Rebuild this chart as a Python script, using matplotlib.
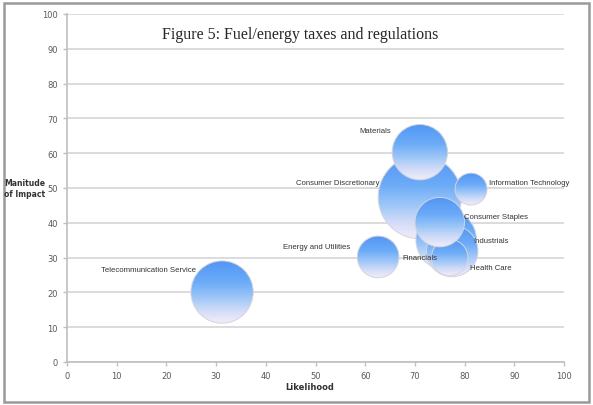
import matplotlib
matplotlib.use("Agg")
import matplotlib.pyplot as plt
import numpy as np
from matplotlib.patches import Circle, Rectangle
from matplotlib.transforms import Affine2D, ScaledTranslation

# Data
sectors = ["Consumer Discretionary", "Industrials", "Health Care", "Financials",
           "Energy and Utilities", "Telecommunication Service",
           "Information Technology", "Materials", "Consumer Staples"]
likelihood = [71, 76.3, 77.5, 77, 62.6, 31.2, 81.3, 71, 75]
impact = [47.4, 35.1, 31.9, 30, 30.2, 20.1, 49.7, 60.3, 40.2]
bubble_size = [6.8, 3.6, 2.6, 1.3, 1.7, 3.8, 1.0, 3.0, 2.4]

# label offsets in pixels from bubble centre, and alignment
label_off = [(-40, 15), (27, -1), (18, -17), (-47, 0), (-28, 10),
             (-26, 23), (18, 7), (-29, 22), (24, 6)]
label_ha = ["right", "left", "left", "left", "right",
            "right", "left", "right", "left"]

x_ticks = list(range(0, 101, 10))
y_ticks = list(range(0, 101, 10))

GRID = "#d9d9d9"
AXIS = "#bfbfbf"
TICK_TXT = "#595959"
TXT = "#333333"

# gradient of the bubbles, top to bottom
grad_pos = [0.0, 0.35, 0.6, 0.8, 1.0]
grad_stops = np.array([
    [0.32, 0.59, 0.96],
    [0.42, 0.67, 0.97],
    [0.62, 0.78, 0.97],
    [0.82, 0.86, 0.97],
    [0.95, 0.93, 0.98],
])
t = np.linspace(0, 1, 128)
grad = np.stack([np.interp(t, grad_pos, grad_stops[:, i]) for i in range(3)], axis=-1)
grad = grad[:, None, :]

fig = plt.figure(figsize=(5.93, 4.06), dpi=100)
ax = fig.add_axes([67 / 593, 1 - 363 / 406, (564 - 67) / 593, (363 - 15) / 406])

ax.set_xlim(0, 100)
ax.set_ylim(0, 100)
ax.set_autoscale_on(False)
ax.set_xticks(x_ticks)
ax.set_yticks(y_ticks)
ax.tick_params(colors=AXIS, labelcolor=TICK_TXT, labelsize=6, length=3, width=1)
for side in ("top", "right"):
    ax.spines[side].set_visible(False)
for side in ("left", "bottom"):
    ax.spines[side].set_color(AXIS)
    ax.spines[side].set_linewidth(1.2)
ax.yaxis.grid(True, color=GRID, lw=1.3)
ax.set_axisbelow(True)


def bubble(ax, x, y, size, z):
    r_pt = 11.5 * np.sqrt(size)
    tr = (Affine2D().scale(r_pt / 72) + fig.dpi_scale_trans
          + ScaledTranslation(x, y, ax.transData))
    circ = Circle((0, 0), 1, transform=tr, facecolor="none",
                  edgecolor="#d4d4de", lw=0.7, zorder=z + 0.1)
    ax.add_patch(circ)
    im = ax.imshow(grad, extent=(-1, 1, -1, 1), transform=tr, aspect="auto",
                   interpolation="bilinear", zorder=z)
    im.set_clip_path(circ)


for i, (x, y, s) in enumerate(zip(likelihood, impact, bubble_size)):
    bubble(ax, x, y, s, 3 + i)
    ax.annotate(sectors[i], (x, y), xytext=label_off[i], textcoords="offset pixels",
                ha=label_ha[i], va="center", fontsize=5.6, color=TXT,
                family="Liberation Sans", zorder=20)

ax.set_xlim(0, 100)
ax.set_ylim(0, 100)

fig.text(300 / 593, 1 - 35 / 406, "Figure 5: Fuel/energy taxes and regulations",
         ha="center", va="center", fontsize=11.5, family="Liberation Serif",
         color="#262626")
fig.text(310 / 593, 1 - 388 / 406, "Likelihood", ha="center", va="center",
         fontsize=6, fontweight="bold", color=TXT)
fig.text(25 / 593, 1 - 189 / 406, "Manitude\nof Impact", ha="center", va="center",
         fontsize=5.5, fontweight="bold", color=TXT, linespacing=1.3)

fig.patches.append(Rectangle((4 / 593, 3 / 406), 585 / 593, 399 / 406,
                             transform=fig.transFigure, fill=False,
                             edgecolor="#9a9a9a", lw=1.8))

fig.savefig("out.png", dpi=100)
